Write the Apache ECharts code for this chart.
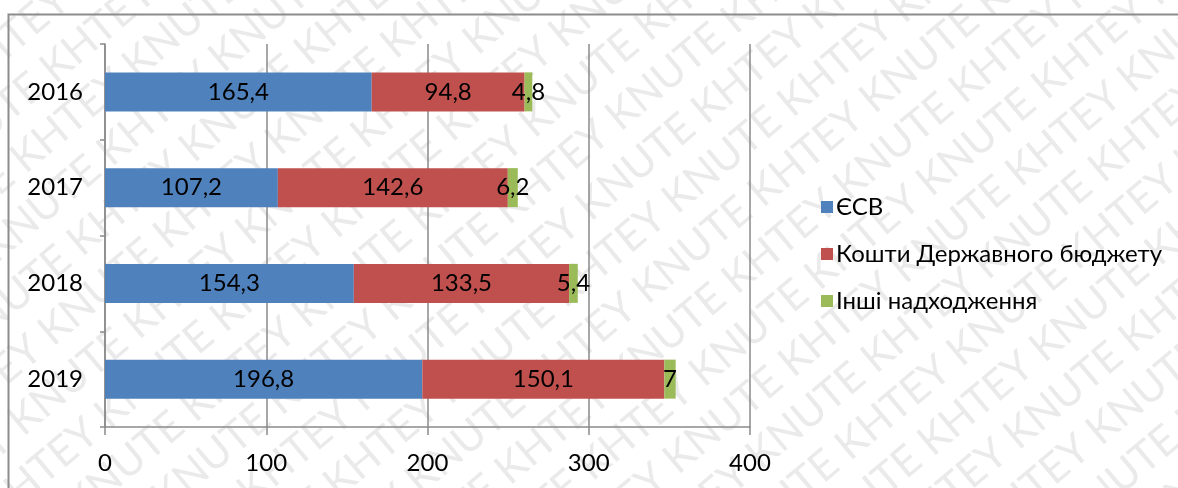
<!DOCTYPE html>
<html>
<head>
<meta charset="utf-8">
<script src="https://cdn.jsdelivr.net/npm/echarts@6/dist/echarts.min.js"></script>
<style>
  html, body { margin: 0; padding: 0; background: #fff; }
  #chart { width: 1178px; height: 488px; }
</style>
</head>
<body>
<div id="chart"></div>
<script>
// Джерела надходжень по роках
const years = ['2016', '2017', '2018', '2019'];
const esv = [165.4, 107.2, 154.3, 196.8];
const budget = [94.8, 142.6, 133.5, 150.1];
const other = [4.8, 6.2, 5.4, 7];
const seriesNames = ['ЄСВ', 'Кошти Державного бюджету', 'Інші надходження'];
const xTicks = [0, 100, 200, 300, 400];

const FONT = 'Lato, "Noto Sans", sans-serif';
const colors = ['#4F81BD', '#C0504D', '#9BBB59'];
const gridLineColor = '#8a8a8a';

const chart = echarts.init(document.getElementById('chart'), null, { renderer: 'canvas' });

const fmt = p => String(p.value).replace('.', ',');

function barSeries(name, data, color) {
  return {
    name: name,
    type: 'bar',
    stack: 'total',
    data: data,
    barWidth: 39,
    itemStyle: { color: color },
    label: {
      show: true,
      position: 'inside',
      formatter: fmt,
      color: '#000',
      fontFamily: FONT,
      fontSize: 24
    }
  };
}

// Diagonal watermark rows, alternating words
const wmRows = [];
for (let i = -14; i <= 14; i++) {
  const words = [];
  for (let k = 0; k < 12; k++) words.push((k + i) % 2 === 0 ? 'KNUTE' : 'KHTEY');
  wmRows.push({
    type: 'text',
    x: -1100 + ((((i * 70) % 150) + 150) % 150),
    y: i * 50,
    style: {
      text: words.join(' '),
      font: '42px ' + FONT,
      fill: 'rgba(185,185,185,0.3)'
    },
    silent: true
  });
}

chart.setOption({
  animation: false,
  backgroundColor: '#fff',
  grid: { left: 105, right: 428, top: 44, bottom: 61, containLabel: false },
  legend: {
    orient: 'vertical',
    left: 816,
    top: 190,
    itemWidth: 12,
    itemHeight: 12,
    itemGap: 23,
    icon: 'rect',
    textStyle: { fontFamily: FONT, fontSize: 24, color: '#000', padding: [0, 0, 0, -2] },
    data: seriesNames
  },
  xAxis: {
    type: 'value',
    min: 0,
    max: 400,
    interval: 100,
    axisLine: { show: true, lineStyle: { color: gridLineColor, width: 1.5 } },
    axisTick: { show: true, length: 8, lineStyle: { color: gridLineColor, width: 1.5 } },
    splitLine: { show: true, lineStyle: { color: gridLineColor, width: 1.5 } },
    axisLabel: {
      margin: 24,
      fontFamily: FONT,
      fontSize: 24,
      color: '#000',
      formatter: v => xTicks.includes(v) ? String(v) : ''
    }
  },
  yAxis: {
    type: 'category',
    inverse: true,
    data: years,
    axisLine: { show: true, lineStyle: { color: gridLineColor, width: 1.5 } },
    axisTick: { show: true, length: 5, lineStyle: { color: gridLineColor, width: 1.5 } },
    axisLabel: { margin: 22, fontFamily: FONT, fontSize: 24, color: '#000' }
  },
  series: [
    barSeries(seriesNames[0], esv, colors[0]),
    barSeries(seriesNames[1], budget, colors[1]),
    barSeries(seriesNames[2], other, colors[2])
  ],
  graphic: [
    {
      type: 'rect',
      shape: { x: 8.5, y: 14.5, width: 1300, height: 600 },
      style: { fill: null, stroke: '#8c8c8c', lineWidth: 2 },
      silent: true,
      z: 100
    },
    {
      type: 'group',
      x: 589,
      y: 244,
      rotation: 40 * Math.PI / 180,
      children: wmRows,
      silent: true,
      z: 200
    }
  ]
});
</script>
</body>
</html>
